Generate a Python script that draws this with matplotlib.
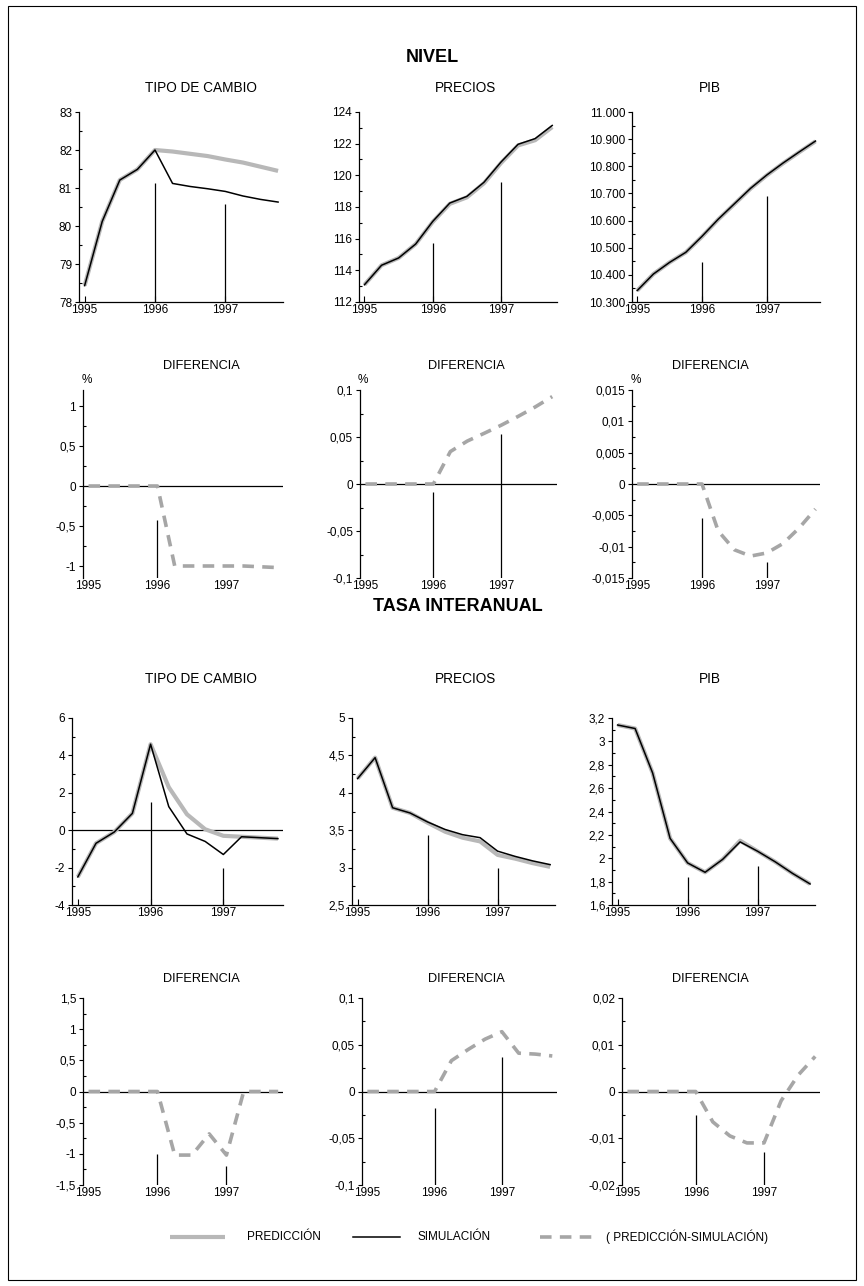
import matplotlib
matplotlib.use('Agg')
import matplotlib.pyplot as plt
from matplotlib.ticker import MultipleLocator, FuncFormatter, FixedLocator
from matplotlib.lines import Line2D
from matplotlib.patches import Rectangle

plt.rcParams['font.family'] = ['Liberation Sans', 'DejaVu Sans']

# trimestres 1995-I a 1997-IV
trimestres = [1995.0, 1995.25, 1995.5, 1995.75, 1996.0, 1996.25,
              1996.5, 1996.75, 1997.0, 1997.25, 1997.5, 1997.75]
anos = [1995, 1996, 1997]
marcas_x = [1996, 1997]

# NIVEL
tc_pred = [78.43, 80.12, 81.21, 81.49, 82.0, 81.96, 81.90, 81.84, 81.75, 81.67, 81.56, 81.45]
tc_sim = [78.43, 80.12, 81.21, 81.49, 82.0, 81.12, 81.04, 80.98, 80.91, 80.79, 80.70, 80.63]
tc_marcas = [81.14, 80.58]

pr_pred = [113.09, 114.32, 114.78, 115.66, 117.06, 118.20, 118.61, 119.50, 120.78, 121.89, 122.22, 123.05]
pr_sim = [113.09, 114.32, 114.78, 115.66, 117.09, 118.25, 118.67, 119.56, 120.84, 121.96, 122.32, 123.15]
pr_marcas = [115.73, 119.56]

pib_pred = [10342, 10403, 10446, 10483, 10541, 10604, 10661, 10718, 10767, 10811, 10852, 10892]
pib_sim = [10342, 10403, 10446, 10483, 10542, 10605, 10662, 10719, 10768, 10812, 10853, 10893]
pib_marcas = [10446, 10689]

# DIFERENCIA (nivel)
tc_dif = [0, 0, 0, 0, 0, -1.0, -1.0, -1.0, -1.0, -1.0, -1.01, -1.02]
tc_dif_marcas = [-0.43, None]
pr_dif = [0, 0, 0, 0, 0, 0.0345, 0.0457, 0.054, 0.0626, 0.072, 0.082, 0.093]
pr_dif_marcas = [-0.009, 0.053]
pib_dif = [0, 0, 0, 0, 0, -0.0075, -0.0105, -0.0115, -0.011, -0.0095, -0.007, -0.004]
pib_dif_marcas = [-0.0055, -0.0125]

# TASA INTERANUAL
tci_pred = [-2.5, -0.7, -0.1, 0.9, 4.6, 2.3, 0.85, 0.05, -0.3, -0.35, -0.4, -0.45]
tci_sim = [-2.5, -0.7, -0.1, 0.9, 4.6, 1.26, -0.2, -0.6, -1.3, -0.35, -0.4, -0.45]
tci_marcas = [1.52, -2.0]

pri_pred = [4.19, 4.47, 3.80, 3.73, 3.60, 3.48, 3.40, 3.35, 3.17, 3.12, 3.06, 3.01]
pri_sim = [4.19, 4.47, 3.80, 3.73, 3.61, 3.51, 3.44, 3.40, 3.22, 3.15, 3.09, 3.04]
pri_marcas = [3.43, 3.0]

pibi_pred = [3.14, 3.11, 2.73, 2.17, 1.96, 1.88, 1.99, 2.15, 2.06, 1.97, 1.87, 1.78]
pibi_sim = [3.14, 3.11, 2.73, 2.17, 1.96, 1.88, 1.99, 2.14, 2.06, 1.97, 1.87, 1.78]
pibi_marcas = [1.84, 1.93]

# DIFERENCIA (tasa)
tci_dif = [0, 0, 0, 0, 0, -1.02, -1.02, -0.68, -1.02, 0.0, 0.0, 0.0]
tci_dif_marcas = [-1.0, -1.2]
pri_dif = [0, 0, 0, 0, 0, 0.033, 0.045, 0.056, 0.064, 0.041, 0.040, 0.038]
pri_dif_marcas = [-0.018, 0.037]
pibi_dif = [0, 0, 0, 0, 0, -0.0065, -0.0095, -0.011, -0.011, -0.002, 0.0035, 0.0075]
pibi_dif_marcas = [-0.005, -0.013]

GRIS = '#b8b8b8'
GRIS_DIF = '#a6a6a6'
W, H = 864, 1286


def coma(v, pos):
    s = f'{v:.4f}'.rstrip('0').rstrip('.')
    if s in ('-0', ''):
        s = '0'
    return s.replace('.', ',')


def miles(v, pos):
    return f'{v:,.0f}'.replace(',', '.')


def panel(caja, ylim, mayor, menor, fmt, pred=None, sim=None, dif=None,
          marcas=(None, None), cero=False):
    l, t, r, b = caja
    ax = fig.add_axes([l / W, 1 - b / H, (r - l) / W, (b - t) / H])
    ax.set_xlim(1994.92, 1997.82)
    ax.set_ylim(*ylim)
    for s in ['top', 'right']:
        ax.spines[s].set_visible(False)
    ax.spines['left'].set_linewidth(0.9)
    ax.spines['bottom'].set_linewidth(0.9)
    if cero:
        ax.spines['bottom'].set_visible(False)
        ax.axhline(0, color='black', lw=0.9, zorder=1)
    ax.xaxis.set_major_locator(FixedLocator(anos))
    ax.set_xticklabels([str(a) for a in anos])
    ax.tick_params(axis='x', direction='in', length=0 if cero else 4,
                   width=0.8, labelsize=8.5, pad=1.5)
    ax.yaxis.set_major_locator(MultipleLocator(mayor))
    ax.yaxis.set_minor_locator(MultipleLocator(menor))
    ax.yaxis.set_major_formatter(FuncFormatter(fmt))
    ax.tick_params(axis='y', which='major', direction='out', length=3,
                   width=0.8, labelsize=8.5, pad=2)
    ax.tick_params(axis='y', which='minor', direction='in', length=2, width=0.8)
    for xm, ym in zip(marcas_x, marcas):
        if ym is not None:
            ax.vlines(xm, ylim[0], ym, color='black', lw=0.9, zorder=2)
    if pred is not None:
        ax.plot(trimestres, pred, color=GRIS, lw=3.0, zorder=3,
                solid_capstyle='butt')
    if sim is not None:
        ax.plot(trimestres, sim, color='black', lw=1.1, zorder=4)
    if dif is not None:
        ax.plot(trimestres, dif, color=GRIS_DIF, lw=2.6, zorder=3,
                linestyle=(0, (3.2, 2.3)))
    return ax


fig = plt.figure(figsize=(W / 100, H / 100), dpi=100)

# marco
fig.patches.append(Rectangle((8 / W, 6 / H), 848 / W, 1274 / H,
                             transform=fig.transFigure, fill=False,
                             edgecolor='black', lw=0.8))

fig.text(432 / W, 1 - 57 / H, 'NIVEL', ha='center', va='center',
         fontsize=13, fontweight='bold')
fig.text(458 / W, 1 - 606 / H, 'TASA INTERANUAL', ha='center', va='center',
         fontsize=13, fontweight='bold')

cx = [201, 466, 710]
for i, txt in enumerate(['TIPO DE CAMBIO', 'PRECIOS', 'PIB']):
    fig.text(cx[i] / W, 1 - 88 / H, txt, ha='center', va='center', fontsize=9.8)
    fig.text(cx[i] / W, 1 - 366 / H, 'DIFERENCIA', ha='center', va='center', fontsize=9.2)
    fig.text(cx[i] / W, 1 - 679 / H, txt, ha='center', va='center', fontsize=9.8)
    fig.text(cx[i] / W, 1 - 979 / H, 'DIFERENCIA', ha='center', va='center', fontsize=9.2)

for xp in [87, 363, 636]:
    fig.text(xp / W, 1 - 380 / H, '%', ha='center', va='center', fontsize=8.5)

# fila 1: nivel
panel((79, 112, 283, 302), (78, 83), 1, 0.5, coma, tc_pred, tc_sim, marcas=tc_marcas)
panel((359, 112, 557, 302), (112, 124), 2, 1, coma, pr_pred, pr_sim, marcas=pr_marcas)
panel((632, 112, 820, 302), (10300, 11000), 100, 50, miles, pib_pred, pib_sim, marcas=pib_marcas)

# fila 2: diferencia nivel
panel((83, 390, 283, 578), (-1.15, 1.2), 0.5, 0.25, coma, dif=tc_dif, marcas=tc_dif_marcas, cero=True)
panel((360, 390, 557, 578), (-0.1, 0.1), 0.05, 0.025, coma, dif=pr_dif, marcas=pr_dif_marcas, cero=True)
panel((632, 390, 820, 578), (-0.015, 0.015), 0.005, 0.0025, coma, dif=pib_dif, marcas=pib_dif_marcas, cero=True)

# fila 3: tasa interanual
ax7 = panel((72, 718, 283, 905), (-4, 6), 2, 1, coma, tci_pred, tci_sim, marcas=tci_marcas)
ax7.axhline(0, color='black', lw=0.9, zorder=1)
panel((352, 718, 555, 905), (2.5, 5), 0.5, 0.25, coma, pri_pred, pri_sim, marcas=pri_marcas)
panel((612, 718, 815, 905), (1.6, 3.2), 0.2, 0.1, coma, pibi_pred, pibi_sim, marcas=pibi_marcas)

# fila 4: diferencia tasa
panel((83, 998, 283, 1185), (-1.5, 1.5), 0.5, 0.25, coma, dif=tci_dif, marcas=tci_dif_marcas, cero=True)
panel((362, 998, 557, 1185), (-0.1, 0.1), 0.05, 0.025, coma, dif=pri_dif, marcas=pri_dif_marcas, cero=True)
panel((622, 998, 820, 1185), (-0.02, 0.02), 0.01, 0.005, coma, dif=pibi_dif, marcas=pibi_dif_marcas, cero=True)

# leyenda
yl = 1 - 1237 / H
fig.add_artist(Line2D([170 / W, 225 / W], [yl, yl], color=GRIS, lw=3.0,
                      transform=fig.transFigure, solid_capstyle='butt'))
fig.add_artist(Line2D([353 / W, 400 / W], [yl, yl], color='black', lw=1.1,
                      transform=fig.transFigure))
fig.add_artist(Line2D([540 / W, 597 / W], [yl, yl], color=GRIS_DIF, lw=2.6,
                      linestyle=(0, (3.2, 2.3)), transform=fig.transFigure))
fig.text(247 / W, yl, 'PREDICCIÓN', ha='left', va='center', fontsize=8.5)
fig.text(417 / W, yl, 'SIMULACIÓN', ha='left', va='center', fontsize=8.5)
fig.text(606 / W, yl, '( PREDICCIÓN-SIMULACIÓN)', ha='left', va='center', fontsize=8.5)

fig.savefig('out.png', dpi=100)
